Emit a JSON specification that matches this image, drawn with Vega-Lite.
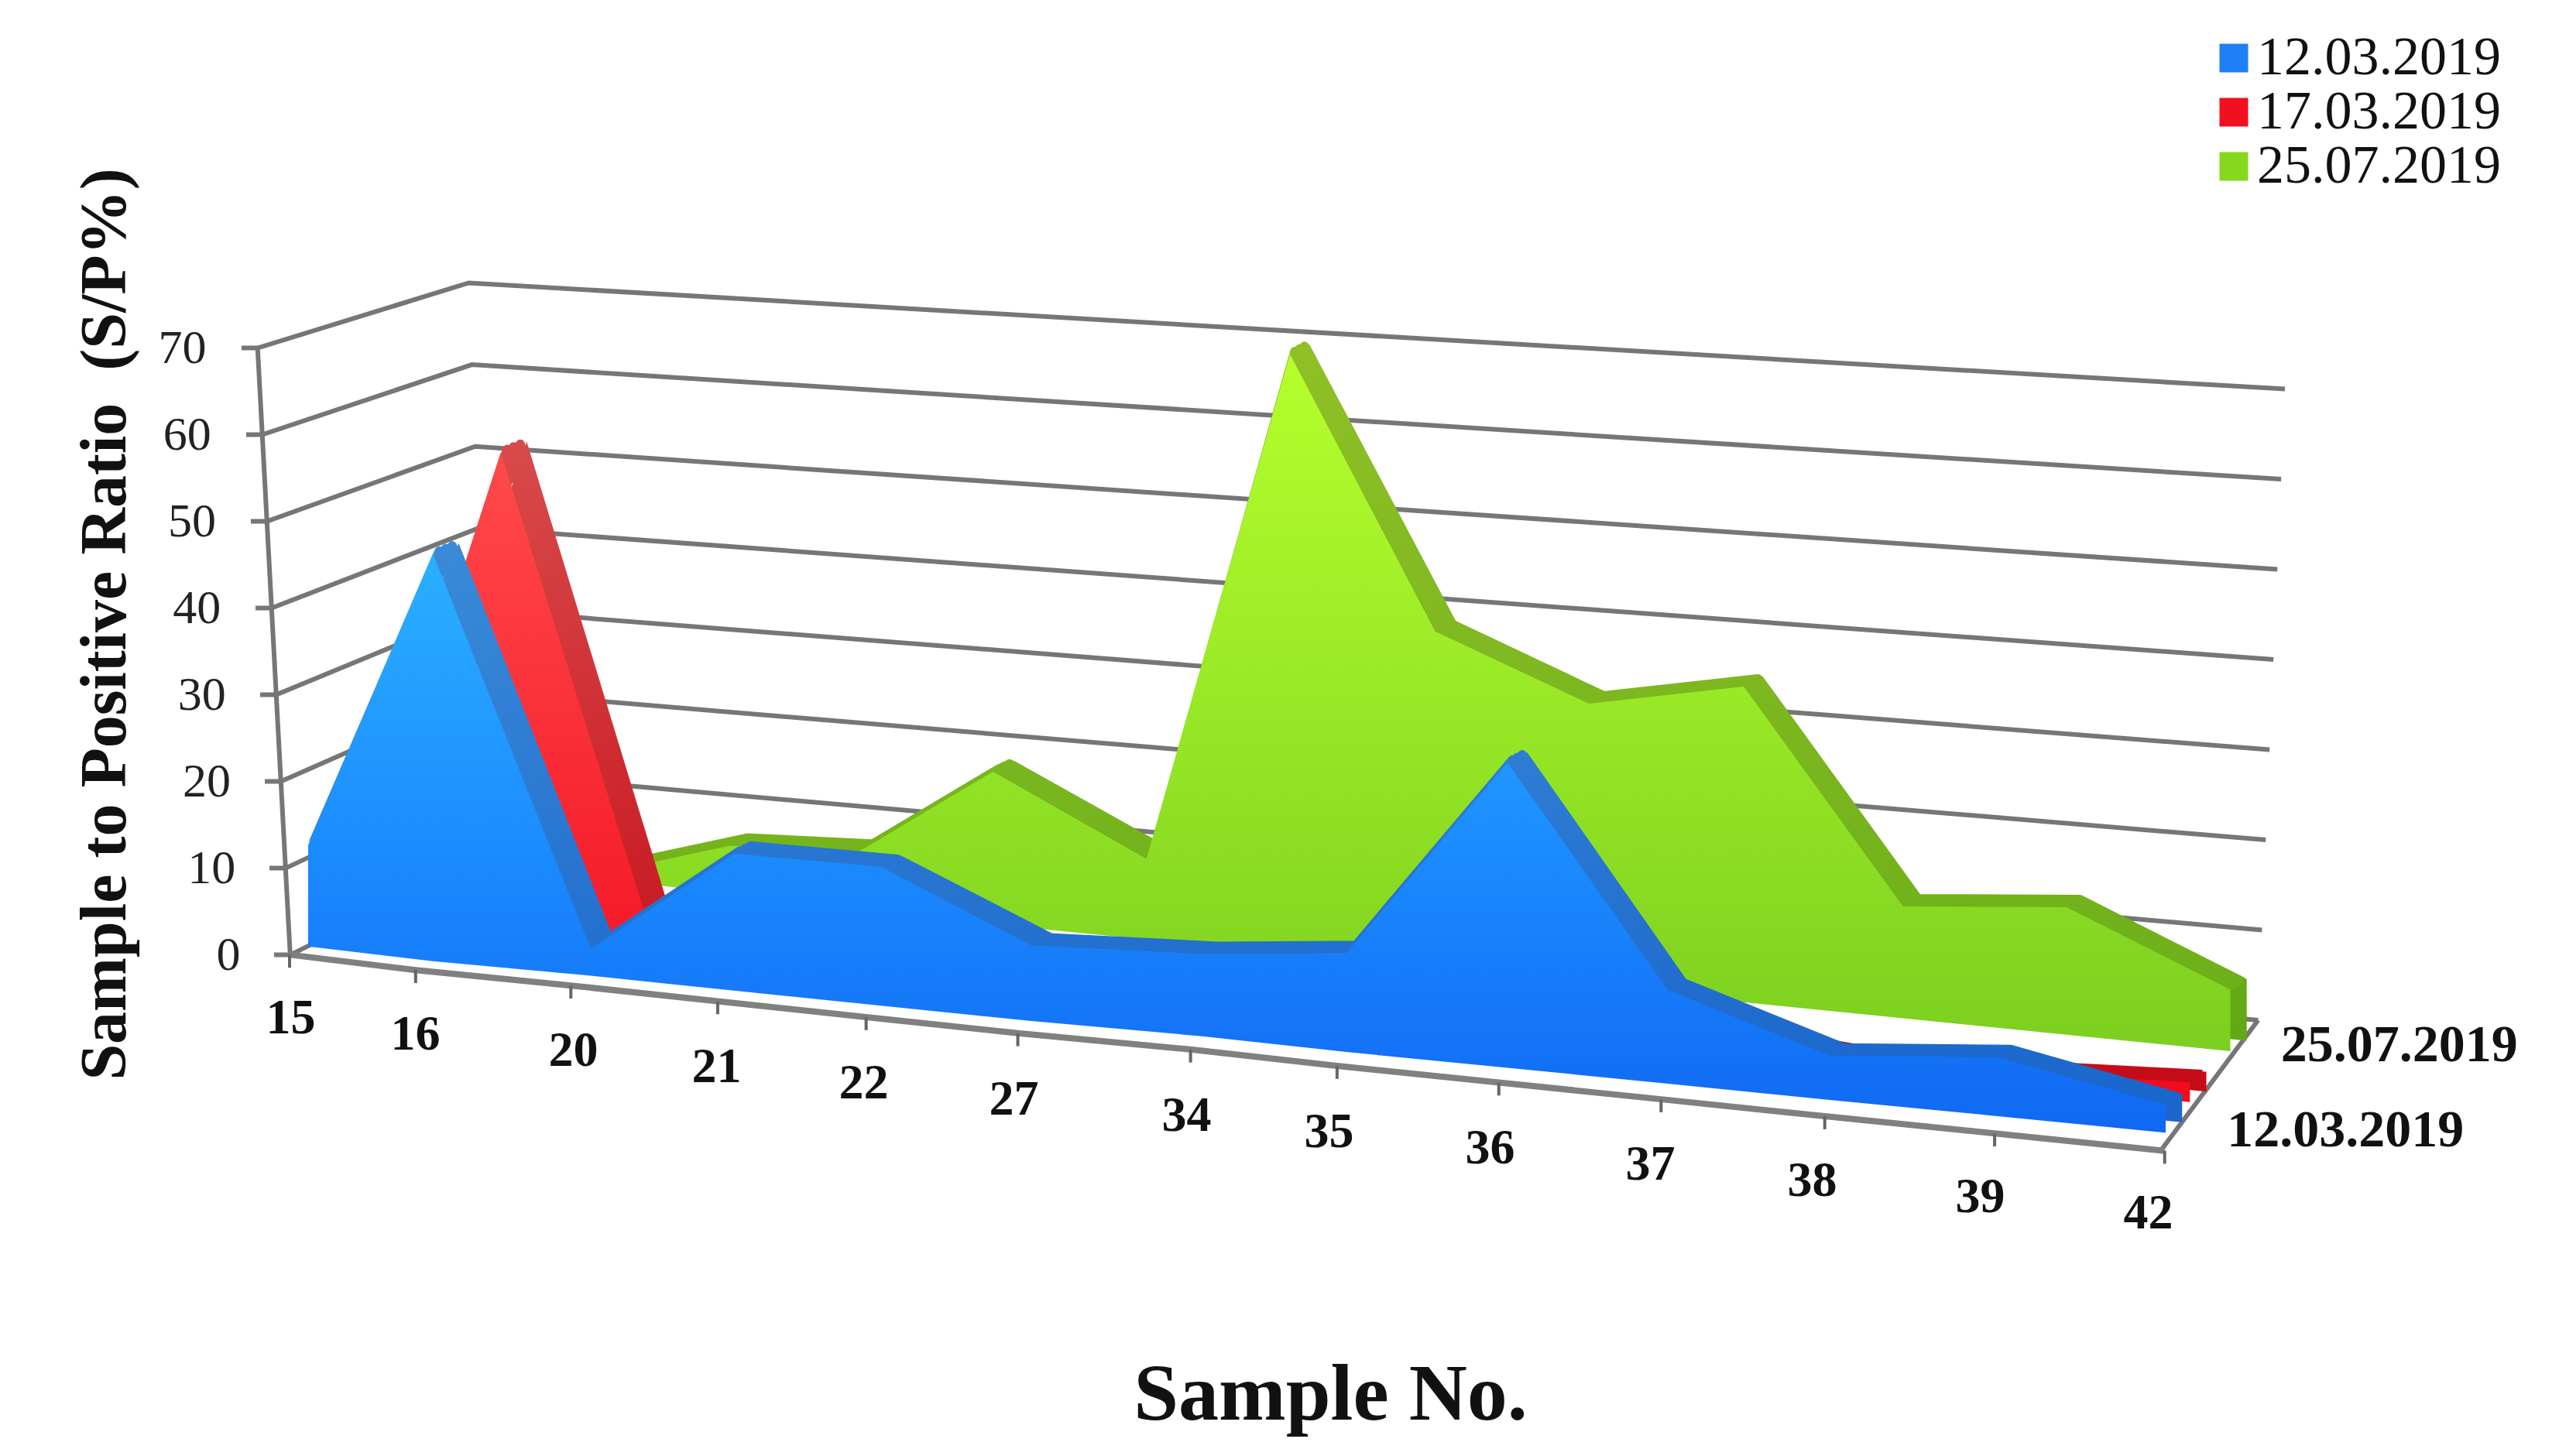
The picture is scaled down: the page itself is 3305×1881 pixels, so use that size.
{
"$schema":"https://vega.github.io/schema/vega-lite/v6.json",
"autosize":{"type":"none"},"padding":0,"width":3305,"height":1881,"background":"white",
"config":{"view":{"stroke":null},"font":"Liberation Serif"},
"datasets":{
"series":[
{"sample":"15","i":0,"series":"12.03.2019","value":11.7},{"sample":"16","i":1,"series":"12.03.2019","value":47},{"sample":"20","i":2,"series":"12.03.2019","value":3.1},{"sample":"21","i":3,"series":"12.03.2019","value":15.8},{"sample":"22","i":4,"series":"12.03.2019","value":16},{"sample":"27","i":5,"series":"12.03.2019","value":8.7},{"sample":"34","i":6,"series":"12.03.2019","value":9.5},{"sample":"35","i":7,"series":"12.03.2019","value":11.4},{"sample":"36","i":8,"series":"12.03.2019","value":35.2},{"sample":"37","i":9,"series":"12.03.2019","value":10.8},{"sample":"38","i":10,"series":"12.03.2019","value":5.1},{"sample":"39","i":11,"series":"12.03.2019","value":6.8},{"sample":"42","i":12,"series":"12.03.2019","value":3.2},
{"sample":"15","i":0,"series":"17.03.2019","value":8},{"sample":"16","i":1,"series":"17.03.2019","value":55.2},{"sample":"20","i":2,"series":"17.03.2019","value":4.3},{"sample":"21","i":3,"series":"17.03.2019","value":7},{"sample":"22","i":4,"series":"17.03.2019","value":6},{"sample":"27","i":5,"series":"17.03.2019","value":3},{"sample":"34","i":6,"series":"17.03.2019","value":3},{"sample":"35","i":7,"series":"17.03.2019","value":3},{"sample":"36","i":8,"series":"17.03.2019","value":14},{"sample":"37","i":9,"series":"17.03.2019","value":2.5},{"sample":"38","i":10,"series":"17.03.2019","value":1.2},{"sample":"39","i":11,"series":"17.03.2019","value":1.4},{"sample":"42","i":12,"series":"17.03.2019","value":2.3},
{"sample":"15","i":0,"series":"25.07.2019","value":1},{"sample":"16","i":1,"series":"25.07.2019","value":1},{"sample":"20","i":2,"series":"25.07.2019","value":5.6},{"sample":"21","i":3,"series":"25.07.2019","value":6.6},{"sample":"22","i":4,"series":"25.07.2019","value":17.6},{"sample":"27","i":5,"series":"25.07.2019","value":9.3},{"sample":"34","i":6,"series":"25.07.2019","value":69.3},{"sample":"35","i":7,"series":"25.07.2019","value":39.1},{"sample":"36","i":8,"series":"25.07.2019","value":32.6},{"sample":"37","i":9,"series":"25.07.2019","value":36.4},{"sample":"38","i":10,"series":"25.07.2019","value":12.9},{"sample":"39","i":11,"series":"25.07.2019","value":14.7},{"sample":"42","i":12,"series":"25.07.2019","value":7.1}
],
"frame":[
{"line":"g0","v":0,"at":0},{"line":"g0","v":0,"at":1},{"line":"g0","v":0,"at":2},{"line":"g0","v":0,"at":3},
{"line":"g10","v":10,"at":0},{"line":"g10","v":10,"at":1},{"line":"g10","v":10,"at":2},{"line":"g10","v":10,"at":3},
{"line":"g20","v":20,"at":0},{"line":"g20","v":20,"at":1},{"line":"g20","v":20,"at":2},{"line":"g20","v":20,"at":3},
{"line":"g30","v":30,"at":0},{"line":"g30","v":30,"at":1},{"line":"g30","v":30,"at":2},{"line":"g30","v":30,"at":3},
{"line":"g40","v":40,"at":0},{"line":"g40","v":40,"at":1},{"line":"g40","v":40,"at":2},{"line":"g40","v":40,"at":3},
{"line":"g50","v":50,"at":0},{"line":"g50","v":50,"at":1},{"line":"g50","v":50,"at":2},{"line":"g50","v":50,"at":3},
{"line":"g60","v":60,"at":0},{"line":"g60","v":60,"at":1},{"line":"g60","v":60,"at":2},{"line":"g60","v":60,"at":3},
{"line":"g70","v":70,"at":0},{"line":"g70","v":70,"at":1},{"line":"g70","v":70,"at":2},{"line":"g70","v":70,"at":3},
{"line":"axis","v":0,"at":1},{"line":"axis","v":70,"at":1},
{"line":"edge","v":0,"at":3},{"line":"edge","v":0,"at":4}
],
"samples":[{"sample":"15","i":0},{"sample":"16","i":1},{"sample":"20","i":2},{"sample":"21","i":3},{"sample":"22","i":4},{"sample":"27","i":5},{"sample":"34","i":6},{"sample":"35","i":7},{"sample":"36","i":8},{"sample":"37","i":9},{"sample":"38","i":10},{"sample":"39","i":11},{"sample":"42","i":12}],
"depths":[{"label":"12.03.2019","d":0},{"label":"25.07.2019","d":2}]
},
"layer":[
{"data":{"name":"frame"},
 "transform":[
  {"calculate":"datum.at==0?(-0.275-0.263*datum.v/70):datum.at==1?(-0.145-0.263*datum.v/70):datum.at==2?(1.371-0.144*datum.v/70):datum.at==3?(12.55+0.16*datum.v/70):11.97","as":"u"},
  {"calculate":"datum.at<=1?datum.v:datum.at==2?(11.5+0.943*datum.v):datum.at==3?(-7.53+1.04*datum.v):-22.6","as":"yp"}],
 "mark":{"type":"line","color":"#767676","strokeWidth":6},
 "encoding":{
  "x":{"field":"u","type":"quantitative","scale":{"domain":[-1,0,1,2,3,4,5,6,7,8,9,10,11,12,14],"range":[238,398,559,763,948,1138,1332,1555,1739,1947,2154,2363,2580,2797,3231]},
   "axis":{"values":[0,1,2,3,4,5,6,7,8,9,10,11,12],"labelExpr":"['15','16','20','21','22','27','34','35','36','37','38','39','42'][datum.value]","offset":-560,"domain":false,"ticks":false,"grid":false,"labelFont":"Liberation Serif","labelFontSize":64,"labelFontWeight":"bold","labelColor":"#111111","labelPadding":-38,"labelAngle":0,"labelOverlap":false,"labelBound":false,"labelFlush":false,
    "encoding":{"labels":{"dy":{"value":{"expr":"datum.value*21"}},"dx":{"value":-23}}},
    "title":"Sample No.","titleFont":"Liberation Serif","titleFontSize":104,"titleFontWeight":"bold","titleColor":"#111111","titleX":1718,"titleY":430}},
  "y":{"field":"yp","type":"quantitative","scale":{"domain":[-57.8,110.14],"nice":false,"zero":false},
   "axis":{"values":[0,10,20,30,40,50,60,70],"offset":-310,"domain":false,"ticks":false,"grid":false,"labelFont":"Liberation Serif","labelFontSize":62,"labelColor":"#222222","labelPadding":0,"labelOverlap":false,"labelBound":false,"labelFlush":false,
    "encoding":{"labels":{"dx":{"value":{"expr":"-44*datum.value/70"}}}},
    "title":"Sample to Positive Ratio\u00a0\u00a0(S/P%)","titleFont":"Liberation Serif","titleFontSize":84,"titleFontWeight":"bold","titleColor":"#111111","titleX":-131,"titleY":806}},
  "detail":{"field":"line"},"order":{"field":"at"}}},
{"data":{"name":"samples"},
 "transform":[{"calculate":"datum.i-0.15+0.012*datum.i","as":"u"},{"calculate":"0.96-1.665*datum.u-0.0103*datum.u*datum.u-1.2-0.075*datum.u","as":"yf"},{"calculate":"datum.yf-1.5","as":"yt"}],
 "layer":[
  {"mark":{"type":"line","color":"#808080","strokeWidth":8},
   "encoding":{"x":{"field":"u","type":"quantitative","scale":{"domain":[-1,0,1,2,3,4,5,6,7,8,9,10,11,12,14],"range":[238,398,559,763,948,1138,1332,1555,1739,1947,2154,2363,2580,2797,3231]}},"y":{"field":"yf","type":"quantitative","scale":{"domain":[-57.8,110.14],"nice":false,"zero":false}}}},
  {"mark":{"type":"rule","color":"#666666","strokeWidth":4},
   "encoding":{"x":{"field":"u","type":"quantitative","scale":{"domain":[-1,0,1,2,3,4,5,6,7,8,9,10,11,12,14],"range":[238,398,559,763,948,1138,1332,1555,1739,1947,2154,2363,2580,2797,3231]}},"y":{"field":"yf","type":"quantitative","scale":{"domain":[-57.8,110.14],"nice":false,"zero":false}},"y2":{"field":"yt"}}}
 ]},
{"data":{"name":"depths"},
 "transform":[{"calculate":"13.07+0.16*datum.d","as":"u"},{"calculate":"-20.3+4.9*datum.d","as":"yp"}],
 "mark":{"type":"text","font":"Liberation Serif","fontSize":68,"fontWeight":"bold","color":"#111111","align":"center","baseline":"middle"},
 "encoding":{"x":{"field":"u","type":"quantitative","scale":{"domain":[-1,0,1,2,3,4,5,6,7,8,9,10,11,12,14],"range":[238,398,559,763,948,1138,1332,1555,1739,1947,2154,2363,2580,2797,3231]}},"y":{"field":"yp","type":"quantitative","scale":{"domain":[-57.8,110.14],"nice":false,"zero":false}},"text":{"field":"label"}}},
{"data":{"name":"series"},
 "transform":[
  {"calculate":"datum.series=='12.03.2019'?0:datum.series=='17.03.2019'?0.75:2","as":"d"},
  {"calculate":"datum.i+datum.d*0.7/(1+0.22*datum.i)","as":"u"},
  {"calculate":"0.96-1.665*datum.i-0.0103*datum.i*datum.i+datum.d*4.7","as":"base"},
  {"calculate":"datum.value+datum.base","as":"top"},
  {"calculate":"datum.u+0.17-0.006*datum.i","as":"ub"},{"calculate":"datum.top+1.2","as":"topb"},{"calculate":"datum.base+1.2","as":"baseb"}],
 "layer":[
  {"mark":{"type":"point","filled":true,"size":0,"shape":"square"},
   "encoding":{"x":{"field":"u","type":"quantitative","scale":{"domain":[-1,0,1,2,3,4,5,6,7,8,9,10,11,12,14],"range":[238,398,559,763,948,1138,1332,1555,1739,1947,2154,2363,2580,2797,3231]}},"y":{"field":"top","type":"quantitative","scale":{"domain":[-57.8,110.14],"nice":false,"zero":false}},
    "color":{"field":"series","type":"nominal","scale":{"domain":["12.03.2019","17.03.2019","25.07.2019"],"range":["#1f80f5","#f01020","#86d81e"]},
     "legend":{"orient":"none","legendX":2850,"legendY":40,"title":null,"symbolType":"square","symbolSize":1369,"symbolStrokeWidth":0,"symbolOpacity":1,"labelFont":"Liberation Serif","labelFontSize":70,"labelColor":"#111111","labelOffset":-5,"labelLimit":600,"rowPadding":0}}}},
  {"transform":[{"filter":"datum.series=='25.07.2019'"}],"layer":[
   {"mark":{"type":"area","color":{"gradient":"linear","x1":0,"y1":0,"x2":0,"y2":1,"stops":[{"offset":0,"color":"#8fc026"},{"offset":1,"color":"#62a814"}]}},
    "encoding":{"x":{"field":"ub","type":"quantitative","scale":{"domain":[-1,0,1,2,3,4,5,6,7,8,9,10,11,12,14],"range":[238,398,559,763,948,1138,1332,1555,1739,1947,2154,2363,2580,2797,3231]}},"y":{"field":"topb","type":"quantitative","scale":{"domain":[-57.8,110.14],"nice":false,"zero":false}},"y2":{"field":"baseb"}}},
   {"transform":[{"calculate":"[0.25,0.5,0.75]","as":"frac"},{"flatten":["frac"]},{"calculate":"datum.u+datum.frac*(datum.ub-datum.u)","as":"um"},{"calculate":"datum.top+datum.frac*1.2","as":"topm"}],
    "mark":{"type":"line","strokeJoin":"round","stroke":{"gradient":"linear","x1":0,"y1":0,"x2":0,"y2":1,"stops":[{"offset":0,"color":"#8fc026"},{"offset":1,"color":"#6eb01a"}]},"strokeWidth":12},
    "encoding":{"detail":{"field":"frac"},"x":{"field":"um","type":"quantitative","scale":{"domain":[-1,0,1,2,3,4,5,6,7,8,9,10,11,12,14],"range":[238,398,559,763,948,1138,1332,1555,1739,1947,2154,2363,2580,2797,3231]}},"y":{"field":"topm","type":"quantitative","scale":{"domain":[-57.8,110.14],"nice":false,"zero":false}}}},
   {"mark":{"type":"area","color":{"gradient":"linear","x1":0,"y1":0,"x2":0,"y2":1,"stops":[{"offset":0,"color":"#b6ff2c"},{"offset":0.5,"color":"#98e826"},{"offset":1,"color":"#7ccf20"}]}},
    "encoding":{"x":{"field":"u","type":"quantitative","scale":{"domain":[-1,0,1,2,3,4,5,6,7,8,9,10,11,12,14],"range":[238,398,559,763,948,1138,1332,1555,1739,1947,2154,2363,2580,2797,3231]}},"y":{"field":"top","type":"quantitative","scale":{"domain":[-57.8,110.14],"nice":false,"zero":false}},"y2":{"field":"base"}}}
  ]},
  {"transform":[{"filter":"datum.series=='17.03.2019'"}],"layer":[
   {"mark":{"type":"area","color":{"gradient":"linear","x1":0,"y1":0,"x2":0,"y2":1,"stops":[{"offset":0,"color":"#d84a4a"},{"offset":1,"color":"#c40c18"}]}},
    "encoding":{"x":{"field":"ub","type":"quantitative","scale":{"domain":[-1,0,1,2,3,4,5,6,7,8,9,10,11,12,14],"range":[238,398,559,763,948,1138,1332,1555,1739,1947,2154,2363,2580,2797,3231]}},"y":{"field":"topb","type":"quantitative","scale":{"domain":[-57.8,110.14],"nice":false,"zero":false}},"y2":{"field":"baseb"}}},
   {"transform":[{"calculate":"[0.25,0.5,0.75]","as":"frac"},{"flatten":["frac"]},{"calculate":"datum.u+datum.frac*(datum.ub-datum.u)","as":"um"},{"calculate":"datum.top+datum.frac*1.2","as":"topm"}],
    "mark":{"type":"line","strokeJoin":"round","stroke":{"gradient":"linear","x1":0,"y1":0,"x2":0,"y2":1,"stops":[{"offset":0,"color":"#d84a4a"},{"offset":1,"color":"#c40c18"}]},"strokeWidth":12},
    "encoding":{"detail":{"field":"frac"},"x":{"field":"um","type":"quantitative","scale":{"domain":[-1,0,1,2,3,4,5,6,7,8,9,10,11,12,14],"range":[238,398,559,763,948,1138,1332,1555,1739,1947,2154,2363,2580,2797,3231]}},"y":{"field":"topm","type":"quantitative","scale":{"domain":[-57.8,110.14],"nice":false,"zero":false}}}},
   {"mark":{"type":"area","color":{"gradient":"linear","x1":0,"y1":0,"x2":0,"y2":1,"stops":[{"offset":0,"color":"#ff4a4a"},{"offset":1,"color":"#f20a1e"}]}},
    "encoding":{"x":{"field":"u","type":"quantitative","scale":{"domain":[-1,0,1,2,3,4,5,6,7,8,9,10,11,12,14],"range":[238,398,559,763,948,1138,1332,1555,1739,1947,2154,2363,2580,2797,3231]}},"y":{"field":"top","type":"quantitative","scale":{"domain":[-57.8,110.14],"nice":false,"zero":false}},"y2":{"field":"base"}}}
  ]},
  {"transform":[{"filter":"datum.series=='12.03.2019'"}],"layer":[
   {"mark":{"type":"area","color":{"gradient":"linear","x1":0,"y1":0,"x2":0,"y2":1,"stops":[{"offset":0,"color":"#3a8ad8"},{"offset":1,"color":"#1a66cc"}]}},
    "encoding":{"x":{"field":"ub","type":"quantitative","scale":{"domain":[-1,0,1,2,3,4,5,6,7,8,9,10,11,12,14],"range":[238,398,559,763,948,1138,1332,1555,1739,1947,2154,2363,2580,2797,3231]}},"y":{"field":"topb","type":"quantitative","scale":{"domain":[-57.8,110.14],"nice":false,"zero":false}},"y2":{"field":"baseb"}}},
   {"transform":[{"calculate":"[0.25,0.5,0.75]","as":"frac"},{"flatten":["frac"]},{"calculate":"datum.u+datum.frac*(datum.ub-datum.u)","as":"um"},{"calculate":"datum.top+datum.frac*1.2","as":"topm"}],
    "mark":{"type":"line","strokeJoin":"round","stroke":{"gradient":"linear","x1":0,"y1":0,"x2":0,"y2":1,"stops":[{"offset":0,"color":"#3a8ad8"},{"offset":1,"color":"#1a66cc"}]},"strokeWidth":12},
    "encoding":{"detail":{"field":"frac"},"x":{"field":"um","type":"quantitative","scale":{"domain":[-1,0,1,2,3,4,5,6,7,8,9,10,11,12,14],"range":[238,398,559,763,948,1138,1332,1555,1739,1947,2154,2363,2580,2797,3231]}},"y":{"field":"topm","type":"quantitative","scale":{"domain":[-57.8,110.14],"nice":false,"zero":false}}}},
   {"mark":{"type":"area","color":{"gradient":"linear","x1":0,"y1":0,"x2":0,"y2":1,"stops":[{"offset":0,"color":"#2ab0ff"},{"offset":0.5,"color":"#1c8cff"},{"offset":1,"color":"#1068f2"}]}},
    "encoding":{"x":{"field":"u","type":"quantitative","scale":{"domain":[-1,0,1,2,3,4,5,6,7,8,9,10,11,12,14],"range":[238,398,559,763,948,1138,1332,1555,1739,1947,2154,2363,2580,2797,3231]}},"y":{"field":"top","type":"quantitative","scale":{"domain":[-57.8,110.14],"nice":false,"zero":false}},"y2":{"field":"base"}}}
  ]}
 ]}
]
}
